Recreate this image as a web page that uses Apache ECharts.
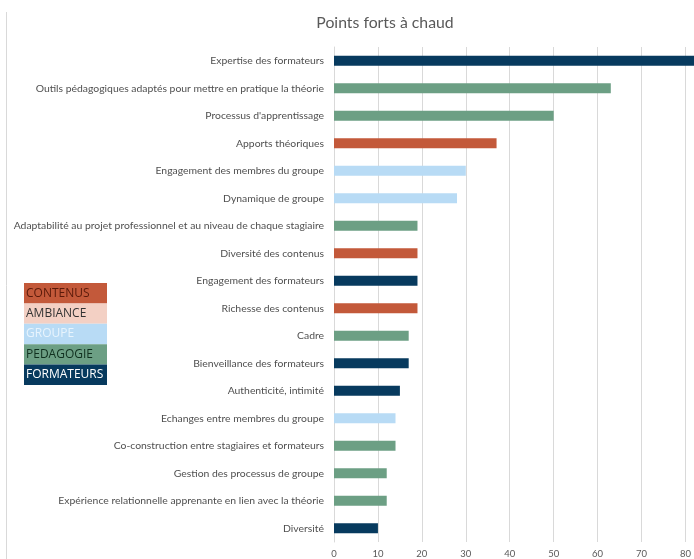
<!DOCTYPE html>
<html>
<head>
<meta charset="utf-8">
<script src="https://cdn.jsdelivr.net/npm/echarts@6/dist/echarts.min.js"></script>
<style>html,body{margin:0;padding:0;background:#fff;}#c{width:694px;height:559px;}</style>
</head>
<body>
<div id="c"></div>
<script>
var categories = [
  "Expertise des formateurs",
  "Outils pédagogiques adaptés pour mettre en pratique la théorie",
  "Processus d'apprentissage",
  "Apports théoriques",
  "Engagement des membres du groupe",
  "Dynamique de groupe",
  "Adaptabilité au projet professionnel et au niveau de chaque stagiaire",
  "Diversité des contenus",
  "Engagement des formateurs",
  "Richesse des contenus",
  "Cadre",
  "Bienveillance des formateurs",
  "Authenticité, intimité",
  "Echanges entre membres du groupe",
  "Co-construction entre stagiaires et formateurs",
  "Gestion des processus de groupe",
  "Expérience relationnelle apprenante en lien avec la théorie",
  "Diversité"
];
var values = [85, 63, 50, 37, 30, 28, 19, 19, 19, 19, 17, 17, 15, 14, 14, 12, 12, 10];
var groups = ["FORMATEURS","PEDAGOGIE","PEDAGOGIE","CONTENUS","GROUPE","GROUPE","PEDAGOGIE","CONTENUS","FORMATEURS","CONTENUS","PEDAGOGIE","FORMATEURS","FORMATEURS","GROUPE","PEDAGOGIE","PEDAGOGIE","PEDAGOGIE","FORMATEURS"];
var legendGroups = ["CONTENUS","AMBIANCE","GROUPE","PEDAGOGIE","FORMATEURS"];
var xTicks = [0, 10, 20, 30, 40, 50, 60, 70, 80];

var groupColors = {
  CONTENUS: "#c3593a",
  AMBIANCE: "#f3d0c4",
  GROUPE: "#b8dbf5",
  PEDAGOGIE: "#6c9f84",
  FORMATEURS: "#073a5e"
};
var groupText = {
  CONTENUS: "#5a1a0a",
  AMBIANCE: "#333333",
  GROUPE: "#e8f4fd",
  PEDAGOGIE: "#10301f",
  FORMATEURS: "#ffffff"
};

var seriesData = values.map(function (v, i) {
  return { value: v, itemStyle: { color: groupColors[groups[i]] } };
});

var legendGraphics = [];
legendGroups.forEach(function (g, i) {
  legendGraphics.push({
    type: 'rect',
    shape: { x: 24, y: 283 + i * 20.4, width: 83, height: 20.4 },
    style: { fill: groupColors[g] },
    z: 10
  });
  legendGraphics.push({
    type: 'text',
    x: 26, y: 293.2 + i * 20.4,
    style: {
      text: g, fill: groupText[g],
      font: '12px "Open Sans", Lato, sans-serif',
      textVerticalAlign: 'middle', verticalAlign: 'middle'
    },
    z: 11
  });
});
legendGraphics.push({
  type: 'line',
  shape: { x1: 6.5, y1: 12, x2: 6.5, y2: 559 },
  style: { stroke: '#d9d9d9', lineWidth: 1 }
});

var chart = echarts.init(document.getElementById('c'));
chart.setOption({
  animation: false,
  backgroundColor: '#ffffff',
  title: {
    text: 'Points forts à chaud',
    left: 380, top: 10,
    textAlign: 'center',
    textStyle: { fontFamily: 'Lato, "Open Sans", sans-serif', fontSize: 15.8, fontWeight: 'normal', color: '#595959' }
  },
  grid: { left: 334, top: 47, bottom: 14, right: 5, containLabel: false },
  xAxis: {
    type: 'value',
    min: 0, max: 80, interval: 10,
    axisLine: { show: false },
    axisTick: { show: false },
    splitLine: { show: true, lineStyle: { color: '#d9d9d9', width: 1 } },
    axisLabel: {
      color: '#595959', fontSize: 9.5, margin: 7,
      fontFamily: 'Lato, "Open Sans", sans-serif',
      formatter: function (v) { return xTicks.indexOf(v) >= 0 ? String(v) : ''; }
    }
  },
  yAxis: {
    type: 'category',
    inverse: true,
    data: categories,
    axisLine: { show: true, lineStyle: { color: '#d9d9d9' } },
    axisTick: { show: false },
    axisLabel: {
      color: '#4f4f4f', fontSize: 10.4, margin: 10,
      fontFamily: 'Lato, "Open Sans", sans-serif'
    }
  },
  series: [{
    type: 'bar',
    data: seriesData,
    barWidth: 10,
    clip: false
  }],
  graphic: legendGraphics
});
</script>
</body>
</html>
